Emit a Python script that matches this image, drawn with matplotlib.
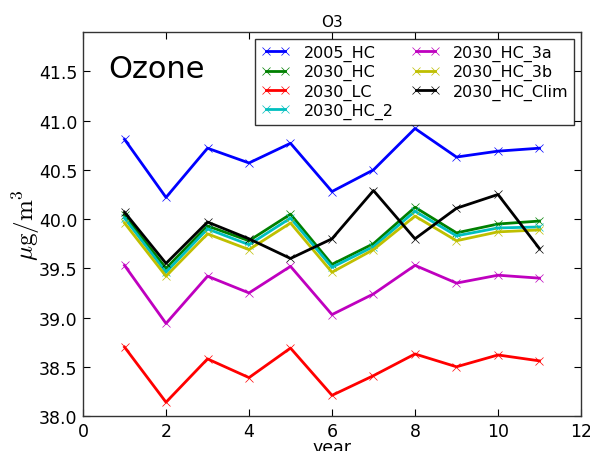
import matplotlib
matplotlib.use("Agg")
import matplotlib.pyplot as plt

years = [1, 2, 3, 4, 5, 6, 7, 8, 9, 10, 11]
series_names = ["2005_HC", "2030_HC", "2030_LC", "2030_HC_2",
                "2030_HC_3a", "2030_HC_3b", "2030_HC_Clim"]
hc2005 = [40.81, 40.22, 40.72, 40.57, 40.77, 40.28, 40.50, 40.92, 40.63, 40.69, 40.72]
hc2030 = [40.04, 39.50, 39.93, 39.78, 40.05, 39.54, 39.75, 40.12, 39.86, 39.95, 39.98]
lc2030 = [38.70, 38.14, 38.58, 38.39, 38.69, 38.21, 38.41, 38.63, 38.50, 38.62, 38.56]
hc2_2030 = [40.01, 39.46, 39.90, 39.74, 40.01, 39.51, 39.72, 40.08, 39.83, 39.91, 39.92]
hc3a_2030 = [39.53, 38.94, 39.42, 39.25, 39.52, 39.03, 39.24, 39.53, 39.35, 39.43, 39.40]
hc3b_2030 = [39.96, 39.42, 39.85, 39.69, 39.96, 39.46, 39.69, 40.03, 39.78, 39.87, 39.89]
clim_2030 = [40.07, 39.55, 39.97, 39.80, 39.60, 39.80, 40.29, 39.80, 40.11, 40.25, 39.70]
colors = ["#0000ff", "#008000", "#ff0000", "#00bfbf", "#bf00bf", "#bfbf00", "#000000"]

plt.rcParams["mathtext.fontset"] = "cm"
plt.rcParams["font.family"] = ["DejaVu Sans"]

fig = plt.figure(figsize=(5.9, 4.52), dpi=100)
ax = fig.add_axes([0.1407, 0.0774, 0.8440, 0.8496])

all_series = [hc2005, hc2030, lc2030, hc2_2030, hc3a_2030, hc3b_2030, clim_2030]
for name, vals, col in zip(series_names, all_series, colors):
    ax.plot(years, vals, color=col, lw=2, marker="x", ms=6, mew=0.5, label=name)

ax.set_xlim(0, 12)
ax.set_ylim(38.0, 41.9)
ax.set_xticks([0, 2, 4, 6, 8, 10, 12])
ax.set_yticks([38.0, 38.5, 39.0, 39.5, 40.0, 40.5, 41.0, 41.5])
ax.set_yticklabels(["38.0", "38.5", "39.0", "39.5", "40.0", "40.5", "41.0", "41.5"])
ax.tick_params(direction="in", top=True, right=True, labelsize=12.5, length=5, pad=4)
for s in ax.spines.values():
    s.set_linewidth(1.0)
    s.set_color("#333333")

ax.set_title("O3", fontsize=11, pad=4)
ax.set_xlabel("year", fontsize=12.5, labelpad=-1)
ax.set_ylabel(r"$\mu\mathrm{g/m}^3$", fontsize=18, labelpad=-2)
ax.text(0.05, 0.905, "Ozone", transform=ax.transAxes, fontsize=22, va="center", ha="left")

leg = ax.legend(loc="upper right", ncol=2, fontsize=11.5, numpoints=2, fancybox=False,
                handlelength=1.8, labelspacing=0.2, columnspacing=1.1,
                handletextpad=0.85, borderpad=0.35, bbox_to_anchor=(0.987, 0.981),
                borderaxespad=0.0)
leg.get_frame().set_edgecolor("black")
leg.get_frame().set_linewidth(1.0)

fig.savefig("out.png", dpi=100)
